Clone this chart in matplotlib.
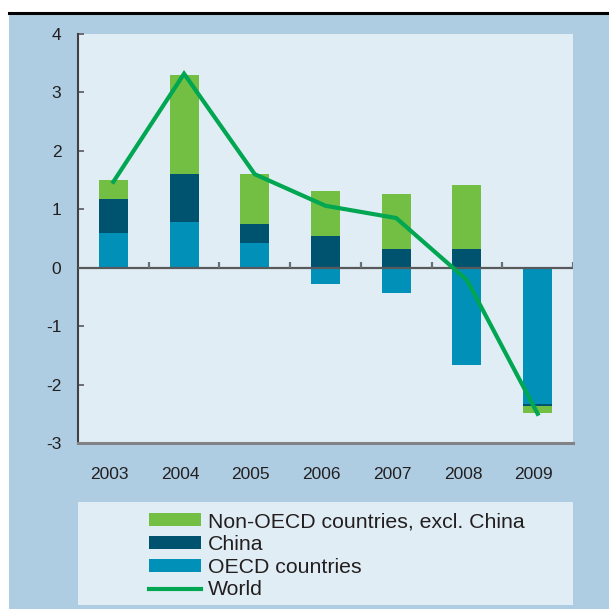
import numpy as np
import matplotlib
matplotlib.use("Agg")
import matplotlib.pyplot as plt
import matplotlib.transforms as mtransforms
from matplotlib.patches import Patch, Rectangle
from matplotlib.lines import Line2D

# values (percentage points)
years = ["2003", "2004", "2005", "2006", "2007", "2008", "2009"]
oecd = [0.60, 0.79, 0.43, -0.28, -0.43, -1.67, -2.33]
china = [0.58, 0.81, 0.31, 0.54, 0.32, 0.32, -0.03]
non_oecd = [0.32, 1.70, 0.86, 0.77, 0.94, 1.10, -0.12]
world = [1.47, 3.32, 1.60, 1.06, 0.85, -0.21, -2.50]
y_ticks = [4, 3, 2, 1, 0, -1, -2, -3]
legend_labels = ["Non-OECD countries, excl. China", "China", "OECD countries", "World"]

c_non = "#72BF44"
c_china = "#00536F"
c_oecd = "#0090B8"
c_world = "#00A651"
c_outer = "#AFCDE2"
c_inner = "#E0EDF5"
c_text = "#231F20"

font = ["Liberation Sans", "DejaVu Sans"]

W = H = 609
fig = plt.figure(figsize=(6.09, 6.09), dpi=100)
fig.patch.set_facecolor("white")

def px_box(x0, y0, x1, y1):
    # pixel box (top-left origin) -> figure fraction [l, b, w, h]
    return [x0 / W, 1 - y1 / H, (x1 - x0) / W, (y1 - y0) / H]

# outer panel and top rule
fig.patches.append(Rectangle((9 / W, 0), 1 - 9 / W, 1 - 13 / H,
                             transform=fig.transFigure, facecolor=c_outer,
                             edgecolor="none", zorder=-10))
fig.add_artist(Line2D([9 / W, 1], [1 - 13 / H, 1 - 13 / H],
                      transform=fig.transFigure, color="black", lw=2.2, zorder=-5))

ax = fig.add_axes(px_box(78, 34, 573, 443))
ax.set_facecolor(c_inner)

x = np.arange(len(years))
oecd_a = np.array(oecd)
china_a = np.array(china)
non_a = np.array(non_oecd)

# stack positives upward and negatives downward
pos_base = np.zeros(len(x))
neg_base = np.zeros(len(x))
for vals, col in [(oecd_a, c_oecd), (china_a, c_china), (non_a, c_non)]:
    base = np.where(vals >= 0, pos_base, neg_base)
    ax.bar(x, vals, bottom=base, width=0.41, color=col, zorder=2)
    pos_base = pos_base + np.where(vals >= 0, vals, 0)
    neg_base = neg_base + np.where(vals < 0, vals, 0)

ax.plot(x, world, color=c_world, lw=3.0, zorder=4, solid_joinstyle="miter")

ax.axhline(0, color="#58595B", lw=1.6, zorder=3)
ax.vlines(x[:-1] + 0.5, 0, 0.09, color="#6D6E71", lw=1.6, zorder=3)
ax.vlines([len(x) - 0.5], 0, 0.09, color="#6D6E71", lw=1.6, zorder=3)

ax.set_xlim(-0.5, len(x) - 0.5)
ax.set_ylim(-3, 4)
ax.set_yticks(y_ticks)
ax.set_yticklabels([str(v) for v in y_ticks], family=font, fontsize=12.5, color=c_text)
ax.tick_params(axis="y", direction="in", length=4.5, width=1.2, color="#58595B", pad=12)
ax.set_xticks(x)
ax.set_xticklabels(years, family=font, fontsize=12.5, color=c_text)
ax.tick_params(axis="x", length=0, pad=17)
shift = mtransforms.ScaledTranslation(-4 / 100, 0, fig.dpi_scale_trans)
for lab in ax.get_xticklabels():
    lab.set_transform(lab.get_transform() + shift)

for s in ["top", "right"]:
    ax.spines[s].set_visible(False)
ax.spines["left"].set_color("#414042")
ax.spines["left"].set_linewidth(1.5)
ax.spines["bottom"].set_color("#808285")
ax.spines["bottom"].set_linewidth(2.2)

# legend panel
lax = fig.add_axes(px_box(78, 502, 573, 605))
lax.set_facecolor(c_inner)
lax.set_xticks([])
lax.set_yticks([])
for s in lax.spines.values():
    s.set_visible(False)

handles = [Patch(facecolor=c_non), Patch(facecolor=c_china), Patch(facecolor=c_oecd),
           Line2D([0], [0], color=c_world, lw=3.0)]
leg = lax.legend(handles, legend_labels, loc="upper left",
                 bbox_to_anchor=((149 - 78) / 495, 1 - 10 / 103),
                 frameon=False, borderpad=0, borderaxespad=0,
                 handlelength=2.45, handleheight=0.55, handletextpad=0.33,
                 labelspacing=0.18, prop={"family": font, "size": 15.3})
for t in leg.get_texts():
    t.set_color(c_text)

fig.savefig("out.png", dpi=100, facecolor=fig.get_facecolor())
